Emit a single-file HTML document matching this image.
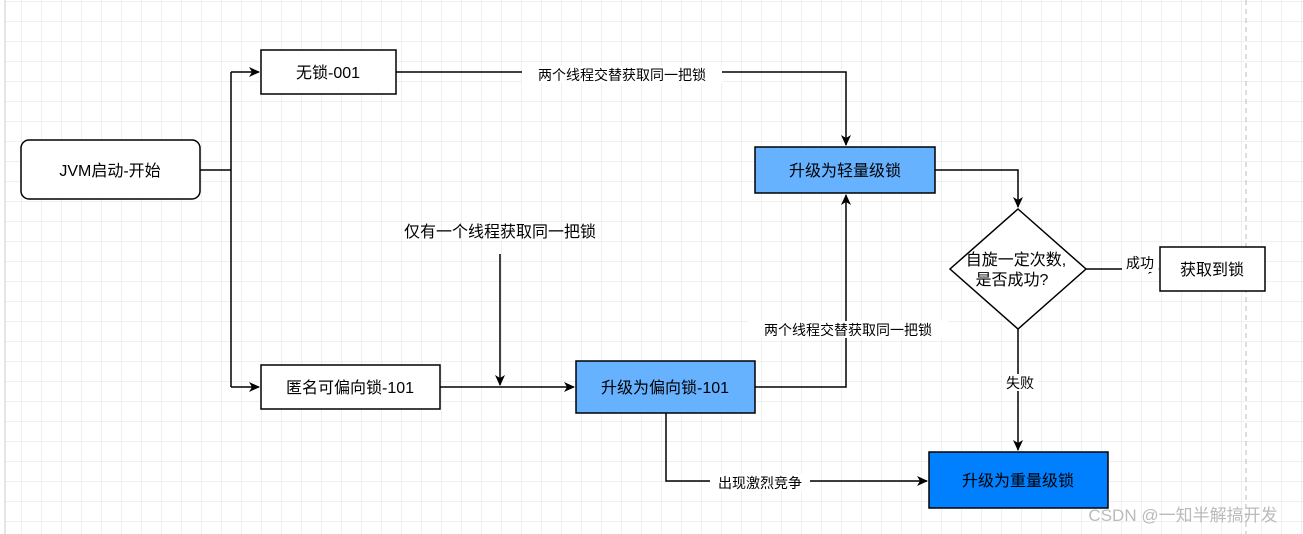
<!DOCTYPE html>
<html><head><meta charset="utf-8"><style>
html,body{margin:0;padding:0;background:#fff;}
svg{display:block;}
text{font-family:"Liberation Sans","Noto Sans CJK SC",sans-serif;font-size:16px;fill:#000;}
</style></head><body>
<svg width="1303" height="534" xmlns="http://www.w3.org/2000/svg">
<defs>
<pattern id="g" x="2" y="2" width="20" height="20" patternUnits="userSpaceOnUse">
<path d="M20 0V20M0 20H20" fill="none" stroke="#e2e2e2" stroke-width="1"/>
</pattern>
<marker id="a" markerWidth="12" markerHeight="12" refX="10" refY="6" orient="auto" markerUnits="userSpaceOnUse">
<path d="M0,1 L11,6 L0,11 L3,6 Z" fill="#000"/>
</marker>
</defs>
<rect width="1303" height="534" fill="#fff"/>
<rect x="5" y="0" width="1298" height="534" fill="url(#g)"/>
<line x1="5" y1="0" x2="5" y2="534" stroke="#ccc"/>
<line x1="1246" y1="0" x2="1246" y2="534" stroke="#bbb" stroke-dasharray="5,4"/>

<g fill="none" stroke="#000" stroke-width="1.5">
<path d="M200 170H231"/>
<path d="M231 72V387"/>
<path d="M231 72H259" marker-end="url(#a)"/>
<path d="M231 387H259" marker-end="url(#a)"/>
<path d="M396 72H846V145" marker-end="url(#a)"/>
<path d="M935 170H1018V207" marker-end="url(#a)"/>
<path d="M1086 269H1158" marker-end="url(#a)"/>
<path d="M1018 329V450" marker-end="url(#a)"/>
<path d="M440 387H574" marker-end="url(#a)"/>
<path d="M500 254V385" marker-end="url(#a)"/>
<path d="M755 387H846V195" marker-end="url(#a)"/>
<path d="M666 413V481H927" marker-end="url(#a)"/>
</g>

<rect x="21" y="140" width="179" height="59" rx="8" fill="#fff" stroke="#000" stroke-width="1.5"/>
<text x="110" y="176" text-anchor="middle">JVM启动-开始</text>
<rect x="261" y="50" width="135" height="44" fill="#fff" stroke="#000" stroke-width="1.5"/>
<text x="328" y="78" text-anchor="middle">无锁-001</text>
<rect x="261" y="365" width="179" height="44" fill="#fff" stroke="#000" stroke-width="1.5"/>
<text x="350" y="393" text-anchor="middle">匿名可偏向锁-101</text>
<rect x="576" y="361" width="179" height="52" fill="#66b2ff" stroke="#000" stroke-width="1.5"/>
<text x="665" y="393" text-anchor="middle">升级为偏向锁-101</text>
<rect x="755" y="147" width="180" height="46" fill="#66b2ff" stroke="#000" stroke-width="1.5"/>
<text x="845" y="176" text-anchor="middle">升级为轻量级锁</text>
<rect x="929" y="452" width="179" height="56" fill="#007fff" stroke="#000" stroke-width="1.5"/>
<text x="1018" y="486" text-anchor="middle">升级为重量级锁</text>
<path d="M1018 209L1086 269L1018 329L950 269Z" fill="#fff" stroke="#000" stroke-width="1.5"/>
<text x="1016" y="265" text-anchor="middle">自旋一定次数,</text>
<text x="1012" y="285" text-anchor="middle">是否成功?</text>
<rect x="1160" y="247" width="105" height="44" fill="#fff" stroke="#000" stroke-width="1.5"/>
<text x="1212" y="275" text-anchor="middle">获取到锁</text>

<rect x="522" y="66" width="200" height="17" fill="#fff"/>
<text x="622" y="80" text-anchor="middle" style="font-size:14px">两个线程交替获取同一把锁</text>
<text x="500" y="237" text-anchor="middle">仅有一个线程获取同一把锁</text>
<rect x="748" y="321" width="200" height="17" fill="#fff"/>
<text x="848" y="335" text-anchor="middle" style="font-size:14px">两个线程交替获取同一把锁</text>
<rect x="710" y="474" width="100" height="17" fill="#fff"/>
<text x="760" y="488" text-anchor="middle" style="font-size:14px">出现激烈竞争</text>
<rect x="1122" y="255" width="36" height="17" fill="#fff"/>
<text x="1140" y="268" text-anchor="middle" style="font-size:14px">成功</text>
<rect x="1002" y="374" width="36" height="17" fill="#fff"/>
<text x="1020" y="388" text-anchor="middle" style="font-size:14px">失败</text>
<text x="1183" y="521" text-anchor="middle" style="font-size:17px;fill:#bbb">CSDN @一知半解搞开发</text>
</svg>
</body></html>
